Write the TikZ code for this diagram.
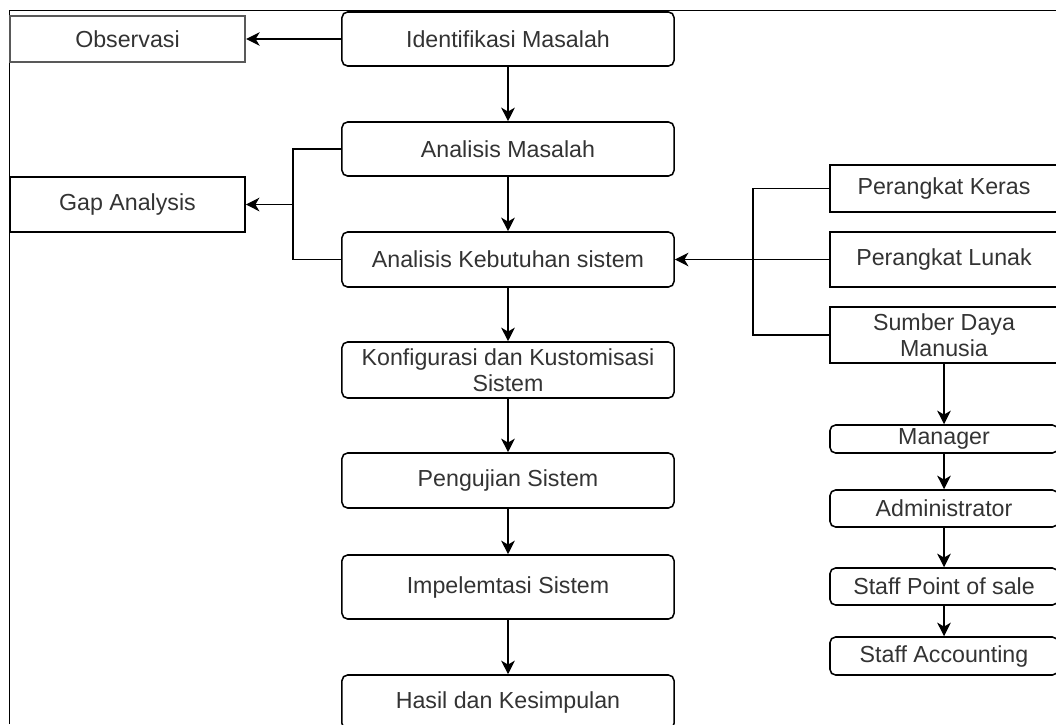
\documentclass[tikz,border=0pt]{standalone}
\usepackage{fontspec}
\setmainfont{Liberation Sans}
\usepackage{xcolor}
\usetikzlibrary{arrows.meta}

\begin{document}
\begin{tikzpicture}[x=0.025cm, y=-0.025cm,
        every node/.style={font=\fontsize{16.5}{18.5}\selectfont, text=black!80, inner sep=0pt, align=center},
        box/.style={draw, line width=1.1pt, rounded corners=4pt},
        sqbox/.style={draw, line width=1.1pt},
        arr/.style={-{Stealth[length=0.34cm, width=0.34cm, inset=0.1cm]}, line width=1pt},
        line/.style={line width=1pt}]
        \useasboundingbox (0,0) rectangle (1056,724);
        \clip (0,0) rectangle (1056,724);

        % frame of the page
        \draw[line width=0.7pt] (9,724) -- (9,10) -- (1056,10);

        % middle column
        \node[box, minimum width=8.3cm, minimum height=1.35cm] (ident) at (508,39) {Identifikasi Masalah};
        \node[box, minimum width=8.3cm, minimum height=1.35cm] (anmas) at (508,149) {Analisis Masalah};
        \node[box, minimum width=8.3cm, minimum height=1.375cm] (kebut) at (508,259.5) {Analisis Kebutuhan sistem};
        \node[box, minimum width=8.3cm, minimum height=1.4cm] (konf) at (508,370) {Konfigurasi dan Kustomisasi\\Sistem};
        \node[box, minimum width=8.3cm, minimum height=1.375cm] (uji) at (508,480.5) {Pengujian Sistem};
        \node[box, minimum width=8.3cm, minimum height=1.6cm] (impl) at (508,587) {Impelemtasi Sistem};
        \node[box, minimum width=8.3cm, minimum height=1.35cm] (hasil) at (508,702) {Hasil dan Kesimpulan};

        % left column
        \node[sqbox, draw=black!65, line width=1.5pt, minimum width=5.875cm, minimum height=1.15cm] (obs) at (127.5,39) {Observasi};
        \node[sqbox, minimum width=5.875cm, minimum height=1.375cm] (gap) at (127.5,204.5) {Gap Analysis};
        \coordinate (gapj) at (293,204.5);

        % right column
        \node[sqbox, minimum width=5.7cm, minimum height=1.175cm] (keras) at (944,188.5) {Perangkat Keras};
        \node[sqbox, minimum width=5.7cm, minimum height=1.375cm] (lunak) at (944,259.5) {Perangkat Lunak};
        \node[sqbox, minimum width=5.7cm, minimum height=1.4cm] (sdm) at (944,335) {Sumber Daya\\Manusia};
        \coordinate (hwj) at (753,259.5);

        \node[box, minimum width=5.7cm, minimum height=0.7cm] (mgr) at (944,439) {Manager};
        \node[box, minimum width=5.7cm, minimum height=0.925cm] (adm) at (944,508.5) {Administrator};
        \node[box, minimum width=5.7cm, minimum height=0.925cm] (pos) at (944,586.5) {Staff Point of sale};
        \node[box, minimum width=5.7cm, minimum height=0.95cm] (acc) at (944,656) {Staff Accounting};

        % connectors
        \draw[arr] (ident.west) -- (obs.east);
        \draw[arr] (ident) -- (anmas);
        \draw[arr] (anmas) -- (kebut);
        \draw[arr] (kebut) -- (konf);
        \draw[arr] (konf) -- (uji);
        \draw[arr] (uji) -- (impl);
        \draw[arr] (impl) -- (hasil);

        \draw[line] (anmas.west) -| (gapj) |- (kebut.west);
        \draw[arr] (gapj) -- (gap.east);

        \draw[line] (keras.west) -| (hwj) |- (sdm.west);
        \draw[arr] (lunak.west) -- (kebut.east);

        \draw[arr] (sdm) -- (mgr);
        \draw[arr] (mgr) -- (adm);
        \draw[arr] (adm) -- (pos);
        \draw[arr] (pos) -- (acc);
    \end{tikzpicture}
\end{document}
